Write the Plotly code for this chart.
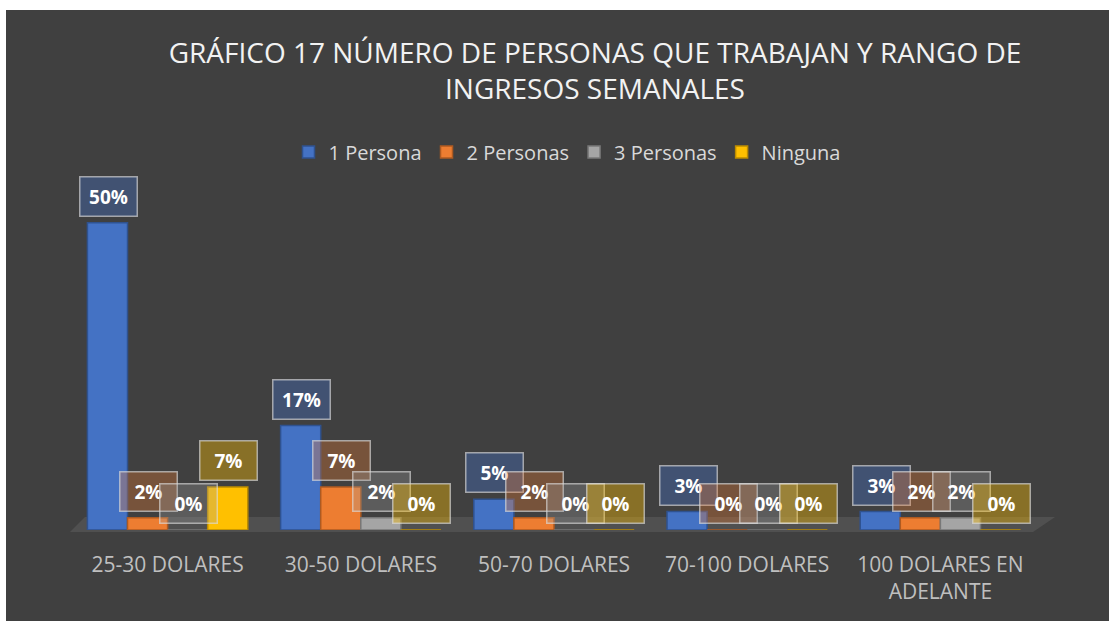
import plotly.graph_objects as go

categories = ["25-30 DOLARES", "30-50 DOLARES", "50-70 DOLARES", "70-100 DOLARES", "100 DOLARES EN<br>ADELANTE"]
series_names = ["1 Persona", "2 Personas", "3 Personas", "Ninguna"]
persona_1 = [50, 17, 5, 3, 3]
personas_2 = [2, 7, 2, 0, 2]
personas_3 = [0, 2, 0, 0, 2]
ninguna = [7, 0, 0, 0, 0]
series_values = [persona_1, personas_2, personas_3, ninguna]

bar_colors = ["#4472C4", "#ED7D31", "#A5A5A5", "#FFC000"]
line_colors = ["#2F528F", "#AE5A21", "#787878", "#BC8C00"]
label_fills = ["rgba(68,114,196,0.38)", "rgba(237,125,49,0.32)",
               "rgba(165,165,165,0.28)", "rgba(255,192,0,0.38)"]

W, H = 1109, 621
L, R, T, B = 71, 72, 186, 91
pw, ph = W - L - R, H - T - B
FONT = "Open Sans"

def px2paper(x, y):
    return (x - L) / pw, (H - B - y) / ph

fig = go.Figure()
for name, vals, c, lc in zip(series_names, series_values, bar_colors, line_colors):
    fig.add_trace(go.Bar(name=name, x=categories, y=vals,
                         marker=dict(color=c, line=dict(color=lc, width=1.5))))

bargap = 0.17
group_px = pw / len(categories) * (1 - bargap)
bar_px = group_px / len(series_names)
annotations = []
for i, (vals, fill) in enumerate(zip(series_values, label_fills)):
    off = (i - (len(series_names) - 1) / 2) * bar_px
    for cat, v in zip(categories, vals):
        annotations.append(dict(
            x=cat, y=v, xref="x", yref="y", text=f"<b>{v}%</b>",
            showarrow=False, xanchor="center", yanchor="bottom",
            xshift=off + 1, yshift=6,
            font=dict(family=FONT, size=19, color="#FFFFFF"),
            bgcolor=fill, bordercolor="rgba(220,220,220,0.65)", borderwidth=1.5,
            borderpad=4, width=48, height=30))

# floor parallelogram
pts = [px2paper(70, 532), px2paper(1033, 532), px2paper(1055, 517), px2paper(85, 517)]
path = "M " + " L ".join(f"{x},{y}" for x, y in pts) + " Z"

shapes = [
    dict(type="path", xref="paper", yref="paper", path=path,
         fillcolor="#505050", line=dict(width=0), layer="below"),
]
# white outer margins (top and left)
x0, y0 = px2paper(0, 0)
x1, y1 = px2paper(W, 10)
shapes.append(dict(type="rect", xref="paper", yref="paper", x0=x0, y0=y0, x1=x1, y1=y1,
                   fillcolor="#FFFFFF", line=dict(width=0), layer="above"))
x0, y0 = px2paper(0, 0)
x1, y1 = px2paper(6, H)
shapes.append(dict(type="rect", xref="paper", yref="paper", x0=x0, y0=y0, x1=x1, y1=y1,
                   fillcolor="#FFFFFF", line=dict(width=0), layer="above"))

lx, ly = px2paper(567, 152)
fig.update_layout(
    width=W, height=H,
    margin=dict(l=L, r=R, t=T, b=B),
    paper_bgcolor="#404040", plot_bgcolor="rgba(0,0,0,0)",
    barmode="group", bargap=bargap, bargroupgap=0,
    title=dict(text="GRÁFICO 17 NÚMERO DE PERSONAS QUE TRABAJAN Y RANGO DE<br>INGRESOS SEMANALES",
               x=595 / W, xanchor="center", xref="container",
               y=1 - 63 / H, yanchor="top", yref="container",
               font=dict(family=FONT, size=28, color="#F2F2F2")),
    legend=dict(orientation="h", x=lx, y=ly, xanchor="center", yanchor="middle",
                font=dict(family=FONT, size=20, color="#D9D9D9"),
                bgcolor="rgba(0,0,0,0)", itemwidth=30, traceorder="normal"),
    xaxis=dict(showgrid=False, showline=False, zeroline=False, ticks="",
               tickfont=dict(family=FONT, size=21, color="#BFBFBF"),
               ticklabelstandoff=20),
    yaxis=dict(range=[0, 56], visible=False, showgrid=False, zeroline=False),
    annotations=annotations,
    shapes=shapes,
    font=dict(family=FONT),
)

fig.write_html("out.html", config={"displayModeBar": False},
               post_script="document.body.style.margin='0';")
